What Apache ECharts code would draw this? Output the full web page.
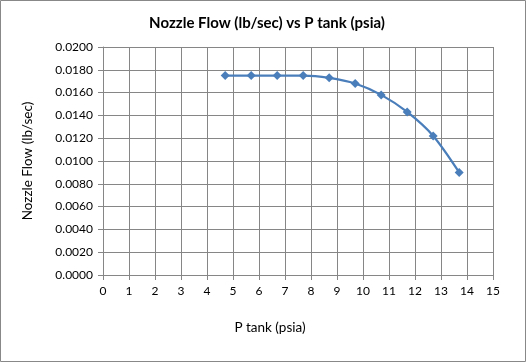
<!DOCTYPE html>
<html>
<head>
<meta charset="utf-8">
<script src="https://cdn.jsdelivr.net/npm/echarts@6/dist/echarts.min.js"></script>
<style>
html,body{margin:0;padding:0;background:#fff;}
#c{width:527px;height:363px;}
</style>
</head>
<body>
<div id="c"></div>
<script>
var pTank = [4.7, 5.7, 6.7, 7.7, 8.7, 9.7, 10.7, 11.7, 12.7, 13.7];
var nozzleFlow = [0.0175, 0.0175, 0.0175, 0.0175, 0.0173, 0.0168, 0.0158, 0.0143, 0.0122, 0.0090];
var chartTitle = 'Nozzle Flow (lb/sec) vs P tank (psia)';
var xTitle = 'P tank (psia)';
var yTitle = 'Nozzle Flow (lb/sec)';

var FONT = 'Lato, "Open Sans", sans-serif';
var chart = echarts.init(document.getElementById('c'), null, {renderer: 'canvas'});
var data = pTank.map(function (x, i) { return [x, nozzleFlow[i]]; });
chart.setOption({
  animation: false,
  backgroundColor: '#fff',
  graphic: [{
    type: 'rect', shape: {x: 0.5, y: 0.5, width: 525, height: 361},
    style: {fill: 'none', stroke: '#888', lineWidth: 1}, silent: true
  }],
  title: [{
    text: chartTitle, left: 262, top: 11, textAlign: 'center',
    textStyle: {fontFamily: FONT, fontSize: 15, fontWeight: 'bold', color: '#000'}
  }, {
    text: xTitle, left: 265, top: 316, textAlign: 'center',
    textStyle: {fontFamily: FONT, fontSize: 13.5, fontWeight: 'normal', color: '#000'}
  }],
  grid: {left: 103, right: 34, top: 47, bottom: 88, containLabel: false},
  xAxis: {
    type: 'value', min: 0, max: 15, interval: 1,
    axisLine: {show: true, lineStyle: {color: '#868686', width: 1}},
    axisTick: {show: true, length: 5, inside: false, lineStyle: {color: '#868686'}},
    splitLine: {show: true, lineStyle: {color: '#868686', width: 1}},
    axisLabel: {fontFamily: FONT, fontSize: 12, color: '#000', margin: 10}
  },
  yAxis: {
    type: 'value', min: 0, max: 0.02, interval: 0.002,
    name: yTitle, nameLocation: 'middle', nameGap: 68, nameRotate: 90,
    nameTextStyle: {fontFamily: FONT, fontSize: 13.5, color: '#000'},
    axisLine: {show: true, lineStyle: {color: '#868686', width: 1}},
    axisTick: {show: true, length: 5, inside: false, lineStyle: {color: '#868686'}},
    splitLine: {show: true, lineStyle: {color: '#868686', width: 1}},
    axisLabel: {fontFamily: FONT, fontSize: 12, color: '#000', margin: 10,
      formatter: function (v) { return v.toFixed(4); }}
  },
  series: [{
    type: 'line', data: data, smooth: 0.3,
    symbol: 'diamond', symbolSize: 9,
    lineStyle: {color: '#4a7ebb', width: 2.25},
    itemStyle: {color: '#4a7ebb'}
  }]
});
</script>
</body>
</html>
